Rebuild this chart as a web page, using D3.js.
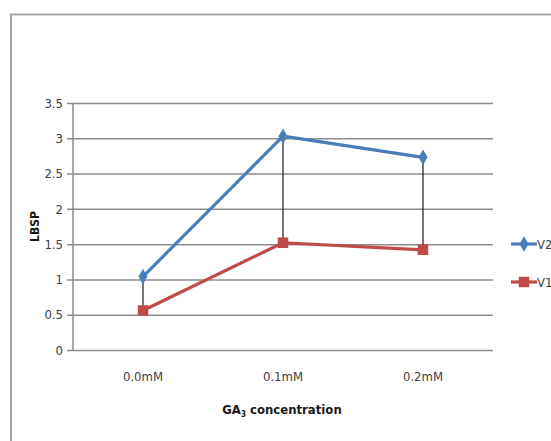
<!DOCTYPE html>
<html>
<head>
<meta charset="utf-8">
<script src="https://cdn.jsdelivr.net/npm/d3@7"></script>
<style>
  html, body { margin: 0; padding: 0; background: #fff; }
  svg { display: block; }
  text { font-family: "Liberation Sans Narrow", "DejaVu Sans Condensed", "Liberation Sans", sans-serif; }
</style>
</head>
<body>
<svg id="chart" width="551" height="441"></svg>
<script>
// GA3 concentration levels and LBSP values per variety
const categories = ["0.0mM", "0.1mM", "0.2mM"];
const v2Values = [1.04, 3.03, 2.73];
const v1Values = [0.56, 1.52, 1.42];
const yTicks = [0, 0.5, 1, 1.5, 2, 2.5, 3, 3.5];
const seriesNames = ["V2", "V1"];

const svg = d3.select("#chart");
const W = 551, H = 441;
const plot = { left: 73, right: 493, top: 103, bottom: 350 };

// outer chart frame (extends beyond the visible area on right and bottom)
svg.append("rect")
  .attr("x", 11).attr("y", 14.5)
  .attr("width", W + 20).attr("height", H + 20)
  .attr("fill", "none").attr("stroke", "#a6a6a6").attr("stroke-width", 2);

const x = d3.scaleBand().domain(categories).range([plot.left, plot.right]);
const y = d3.scaleLinear().domain([0, 3.5]).range([plot.bottom, plot.top]);

// horizontal gridlines with left tick marks
const yAxis = d3.axisLeft(y).tickValues(yTicks).tickSize(-(plot.right - plot.left))
  .tickPadding(10).tickFormat(d => String(d));
const gy = svg.append("g").attr("transform", `translate(${plot.left},0)`).call(yAxis);
gy.select(".domain").remove();
gy.selectAll(".tick line").attr("stroke", "#8c8c8c").attr("stroke-width", 1.5)
  .attr("x1", -6);
gy.selectAll(".tick text").attr("fill", "#404040").attr("font-size", 13);

// vertical value axis line
svg.append("line")
  .attr("x1", plot.left).attr("x2", plot.left)
  .attr("y1", plot.top).attr("y2", plot.bottom)
  .attr("stroke", "#8c8c8c").attr("stroke-width", 1.5);

// category labels
const xAxis = d3.axisBottom(x).tickSize(0).tickPadding(22);
const gx = svg.append("g").attr("transform", `translate(0,${plot.bottom})`).call(xAxis);
gx.select(".domain").remove();
gx.selectAll(".tick text").attr("fill", "#404040").attr("font-size", 13);

const cx = d => x(d) + x.bandwidth() / 2;

// high-low lines joining the two varieties
svg.append("g").selectAll("line").data(categories).join("line")
  .attr("x1", cx).attr("x2", cx)
  .attr("y1", (d, i) => y(v2Values[i])).attr("y2", (d, i) => y(v1Values[i]))
  .attr("stroke", "#1a1a1a").attr("stroke-width", 1.2);

const line = d3.line().x((d, i) => cx(categories[i])).y(d => y(d));
const blue = "#4a7ebb", red = "#be4b48";

svg.append("path").datum(v2Values).attr("d", line)
  .attr("fill", "none").attr("stroke", blue).attr("stroke-width", 3.2).attr("stroke-linejoin", "round");
svg.append("path").datum(v1Values).attr("d", line)
  .attr("fill", "none").attr("stroke", red).attr("stroke-width", 3.2).attr("stroke-linejoin", "round");

const diamond = d3.symbol().type(d3.symbolDiamond).size(70);
const square = d3.symbol().type(d3.symbolSquare).size(110);

svg.append("g").selectAll("path").data(v2Values).join("path")
  .attr("d", diamond)
  .attr("transform", (d, i) => `translate(${cx(categories[i])},${y(d)})`)
  .attr("fill", blue);
svg.append("g").selectAll("path").data(v1Values).join("path")
  .attr("d", square)
  .attr("transform", (d, i) => `translate(${cx(categories[i])},${y(d)})`)
  .attr("fill", red);

// axis titles
svg.append("text")
  .attr("transform", `translate(39,${(plot.top + plot.bottom) / 2}) rotate(-90)`)
  .attr("text-anchor", "middle").attr("font-size", 12).attr("font-weight", "bold")
  .attr("fill", "#1a1a1a").text("LBSP");

const xt = svg.append("text")
  .attr("x", (plot.left + plot.right) / 2 - 1).attr("y", 414)
  .attr("text-anchor", "middle").attr("font-size", 13).attr("font-weight", "bold")
  .attr("fill", "#1a1a1a");
xt.append("tspan").text("GA");
xt.append("tspan").attr("font-size", 8).attr("dy", 3).text("3");
xt.append("tspan").attr("dy", -3).text(" concentration");

// legend
const legend = svg.append("g");
const items = [
  { name: seriesNames[0], color: blue, sym: diamond, y: 244 },
  { name: seriesNames[1], color: red, sym: square, y: 282 }
];
items.forEach(it => {
  legend.append("line").attr("x1", 511).attr("x2", 537)
    .attr("y1", it.y).attr("y2", it.y)
    .attr("stroke", it.color).attr("stroke-width", 3.2);
  legend.append("path").attr("d", it.sym)
    .attr("transform", `translate(524,${it.y})`).attr("fill", it.color);
  legend.append("text").attr("x", 537).attr("y", it.y + 5)
    .attr("font-size", 13).attr("fill", "#404040").text(it.name);
});
</script>
</body>
</html>
